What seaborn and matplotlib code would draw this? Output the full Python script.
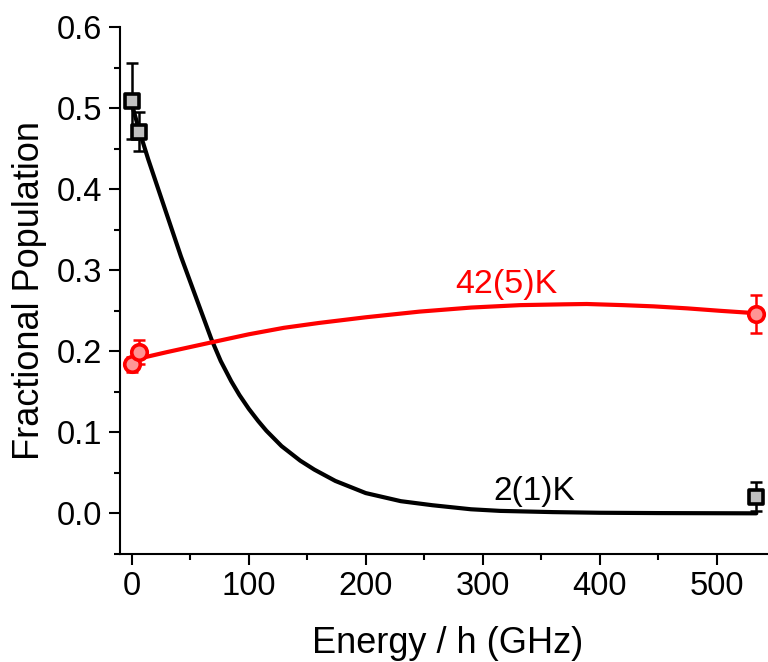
import numpy as np
import pandas as pd
import matplotlib
matplotlib.use("Agg")
import matplotlib.pyplot as plt
import seaborn as sns
from matplotlib.ticker import MultipleLocator, FormatStrFormatter

# ---- data ----
# measured populations (black squares: 2(1)K state, red circles: 42(5)K state)
sq_x = [0, 6, 534]
sq_y = [0.509, 0.471, 0.0205]
sq_err = [0.047, 0.024, 0.018]

ci_x = [0, 6, 534]
ci_y = [0.184, 0.1995, 0.246]
ci_err = [0.009, 0.015, 0.024]

# fitted curves
blk_x = [0, 6, 14, 28, 42, 56, 68, 76, 85, 92, 100, 108, 115, 128, 144, 156,
         174, 200, 230, 257, 290, 315, 360, 400, 450, 534]
blk_y = [0.505, 0.474, 0.437, 0.377, 0.317, 0.262, 0.215, 0.188, 0.163, 0.146,
         0.129, 0.114, 0.102, 0.083, 0.065, 0.054, 0.040, 0.025, 0.015, 0.010,
         0.005, 0.003, 0.0015, 0.0007, 0.0003, 0.0]

red_x = [0, 6, 30, 68, 100, 130, 160, 200, 246, 290, 332, 370, 389, 420, 446,
         475, 503, 534]
red_y = [0.187, 0.191, 0.199, 0.211, 0.221, 0.229, 0.235, 0.242, 0.249, 0.254,
         0.257, 0.258, 0.2584, 0.257, 0.2555, 0.253, 0.250, 0.247]

x_label = "Energy / h (GHz)"
y_label = "Fractional Population"
lbl_black = "2(1)K"
lbl_red = "42(5)K"

# ---- styling ----
sns.set_style("ticks")
plt.rcParams['font.family'] = ['Liberation Sans', 'DejaVu Sans']
plt.rcParams['text.color'] = 'black'
plt.rcParams['axes.labelcolor'] = 'black'
plt.rcParams['xtick.color'] = 'black'
plt.rcParams['ytick.color'] = 'black'

fig = plt.figure(figsize=(7.68, 6.62), dpi=100)
ax = fig.add_axes([0.156, 0.1634, 0.844, 0.7954])

blk = pd.DataFrame({"x": blk_x, "y": blk_y})
red = pd.DataFrame({"x": red_x, "y": red_y})
sns.lineplot(data=blk, x="x", y="y", color="black", linewidth=3.0, ax=ax,
             sort=False, estimator=None, zorder=2)
sns.lineplot(data=red, x="x", y="y", color="#ff0000", linewidth=3.0, ax=ax,
             sort=False, estimator=None, zorder=2)

ax.errorbar(sq_x, sq_y, yerr=sq_err, fmt='none', ecolor='black',
            elinewidth=1.8, capsize=4.5, capthick=1.8, zorder=3)
ax.errorbar(ci_x, ci_y, yerr=ci_err, fmt='none', ecolor='#ff0000',
            elinewidth=1.8, capsize=4.5, capthick=1.8, zorder=3)

sns.scatterplot(x=sq_x, y=sq_y, marker='s', s=105, color='#c0c0c0',
                edgecolor='black', linewidth=2.6, ax=ax, zorder=4)
sns.scatterplot(x=ci_x, y=ci_y, marker='o', s=125, color='#ff9494',
                edgecolor='#ff0000', linewidth=2.6, ax=ax, zorder=4)

ax.text(320, 0.2716, lbl_red, color='#ff0000', fontsize=24.5,
        ha='center', va='baseline')
ax.text(344, 0.0164, lbl_black, color='black', fontsize=24,
        ha='center', va='baseline')

ax.set_xlim(-10.3, 544)
ax.set_ylim(-0.05, 0.6)
ax.xaxis.set_major_locator(MultipleLocator(100))
ax.xaxis.set_minor_locator(MultipleLocator(50))
ax.yaxis.set_major_locator(MultipleLocator(0.1))
ax.yaxis.set_minor_locator(MultipleLocator(0.05))
ax.yaxis.set_major_formatter(FormatStrFormatter('%.1f'))

ax.tick_params(which='major', direction='out', length=8, width=1.5,
               labelsize=23.5, pad=4.5, color='black', labelcolor='black')
ax.tick_params(which='minor', direction='out', length=4, width=1.5,
               color='black')
for s in ['top', 'right']:
    ax.spines[s].set_visible(False)
for s in ['left', 'bottom']:
    ax.spines[s].set_linewidth(1.5)
    ax.spines[s].set_color('black')

ax.set_xlabel(x_label, fontsize=26)
ax.set_ylabel(y_label, fontsize=26)
ax.xaxis.set_label_coords(0.506, -0.189)
ax.xaxis.label.set_va('baseline')
ax.yaxis.set_label_coords(-0.112, 0.5)

fig.savefig("out.png", dpi=100)
